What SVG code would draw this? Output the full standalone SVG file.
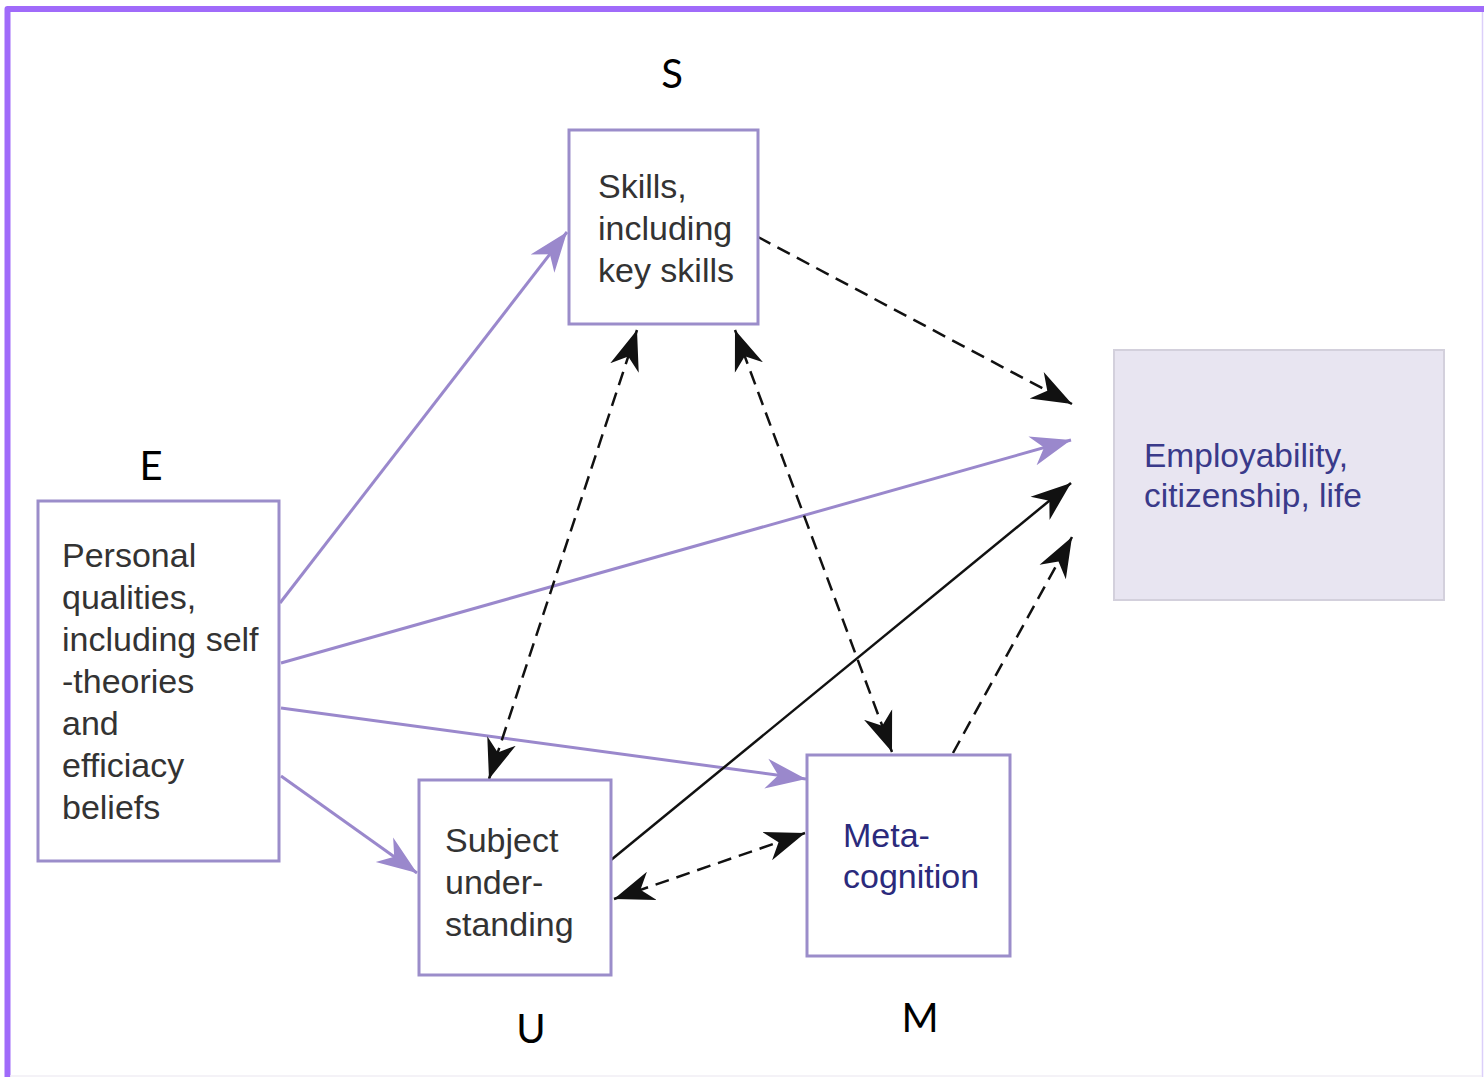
<svg xmlns="http://www.w3.org/2000/svg" width="1484" height="1077" viewBox="0 0 1484 1077">
  <style>
    .box { fill: #ffffff; stroke: #9b8dca; stroke-width: 3; }
    .goal { fill: #e8e5f1; stroke: #d3d0dc; stroke-width: 2; }
    .txt { font-family: "Liberation Sans", Arial, sans-serif; font-size: 34px; fill: #333333; }
    .navy { fill: #2b2a7c; }
    .goaltxt { font-family: "Liberation Sans", Arial, sans-serif; font-size: 33.5px; fill: #3a3a8a; }
    .tag { font-family: Lato, "Open Sans", sans-serif; font-size: 40px; fill: #000000; text-anchor: middle; }
    .lilac { fill: none; stroke: #9a88cc; stroke-width: 3; }
    .solid { fill: none; stroke: #111111; stroke-width: 2.5; }
    .dash { fill: none; stroke: #111111; stroke-width: 2.5; stroke-dasharray: 14 8; }
  </style>
  <defs>
    <marker id="headDark" markerUnits="userSpaceOnUse" markerWidth="44" markerHeight="34" viewBox="-40 -17 44 34" refX="0" refY="0" orient="auto-start-reverse">
      <path d="M0,0 L-40,-15 L-28,0 L-40,15 Z" fill="#111111"/>
    </marker>
    <marker id="headLilac" markerUnits="userSpaceOnUse" markerWidth="44" markerHeight="34" viewBox="-40 -17 44 34" refX="0" refY="0" orient="auto">
      <path d="M0,0 L-40,-15 L-28,0 L-40,15 Z" fill="#9a88cc"/>
    </marker>
  </defs>

  <!-- page frame -->
  <g id="frame">
    <path d="M7.5,1077 V9 H1484" fill="none" stroke="#a06bfa" stroke-width="6" stroke-linejoin="round"/>
    <line x1="1482.5" y1="12" x2="1482.5" y2="1077" stroke="#dccffa" stroke-width="1.5"/>
    <line x1="10" y1="1076" x2="1482" y2="1076" stroke="#f0eef4" stroke-width="1.5"/>
  </g>

  <!-- connectors -->
  <g id="connectors">
    <line class="lilac" x1="280" y1="603" x2="567" y2="232" marker-end="url(#headLilac)"/>
    <line class="lilac" x1="281" y1="663" x2="1071" y2="440" marker-end="url(#headLilac)"/>
    <line class="lilac" x1="281" y1="708" x2="806" y2="779" marker-end="url(#headLilac)"/>
    <line class="lilac" x1="281" y1="776" x2="417" y2="873" marker-end="url(#headLilac)"/>
    <line class="dash" x1="758" y1="237" x2="1072" y2="404" marker-end="url(#headDark)"/>
    <line class="dash" x1="637" y1="330" x2="489" y2="779" marker-start="url(#headDark)" marker-end="url(#headDark)"/>
    <line class="dash" x1="735" y1="330" x2="892" y2="752" marker-start="url(#headDark)" marker-end="url(#headDark)"/>
    <line class="dash" x1="614" y1="899" x2="805" y2="833" marker-start="url(#headDark)" marker-end="url(#headDark)"/>
    <line class="dash" x1="953" y1="753" x2="1072" y2="537" marker-end="url(#headDark)"/>
    <line class="solid" x1="611" y1="860" x2="1071" y2="483" marker-end="url(#headDark)"/>
  </g>

  <!-- S: skills -->
  <g id="node-skills">
    <rect class="box" x="569" y="130" width="189" height="194"/>
    <text class="txt" x="598" y="198">Skills,</text>
    <text class="txt" x="598" y="240">including</text>
    <text class="txt" x="598" y="282">key skills</text>
    <text class="tag" x="672" y="88">S</text>
  </g>

  <!-- E: personal qualities -->
  <g id="node-personal">
    <rect class="box" x="38" y="501" width="241" height="360"/>
    <text class="txt" x="62" y="567">Personal</text>
    <text class="txt" x="62" y="609">qualities,</text>
    <text class="txt" x="62" y="651">including self</text>
    <text class="txt" x="62" y="693">-theories</text>
    <text class="txt" x="62" y="735">and</text>
    <text class="txt" x="62" y="777">efficiacy</text>
    <text class="txt" x="62" y="819">beliefs</text>
    <text class="tag" x="151" y="480">E</text>
  </g>

  <!-- U: subject understanding -->
  <g id="node-subject">
    <rect class="box" x="419" y="780" width="192" height="195"/>
    <text class="txt" x="445" y="852">Subject</text>
    <text class="txt" x="445" y="894">under-</text>
    <text class="txt" x="445" y="936">standing</text>
    <text class="tag" x="531" y="1043">U</text>
  </g>

  <!-- M: metacognition -->
  <g id="node-meta">
    <rect class="box" x="807" y="755" width="203" height="201"/>
    <text class="txt navy" x="843" y="847">Meta-</text>
    <text class="txt navy" x="843" y="888">cognition</text>
    <text class="tag" x="920" y="1032">M</text>
  </g>

  <!-- outcome -->
  <g id="node-outcome">
    <rect class="goal" x="1114" y="350" width="330" height="250"/>
    <text class="goaltxt" x="1144" y="467">Employability,</text>
    <text class="goaltxt" x="1144" y="507">citizenship, life</text>
  </g>
</svg>
